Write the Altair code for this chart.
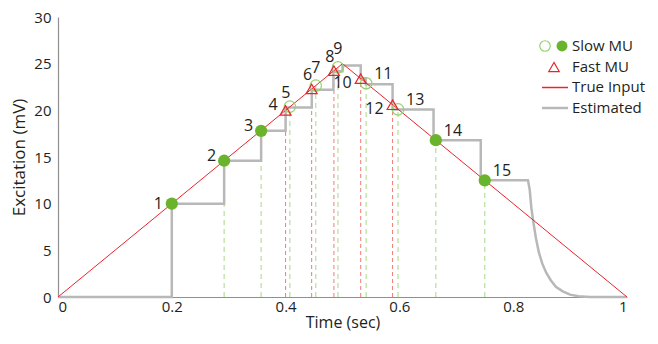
import altair as alt
import pandas as pd

# ---------------- data ----------------
true_t = [0.0, 0.5, 1.0]
true_e = [0.0, 25.0, 0.0]

est_t = [0.0, 0.2, 0.2, 0.292, 0.292, 0.357, 0.357, 0.400, 0.400, 0.446,
         0.446, 0.484, 0.484, 0.500, 0.500, 0.532, 0.532, 0.541, 0.541, 0.588,
         0.588, 0.660, 0.660, 0.743, 0.743, 0.826, 0.829, 0.832, 0.836, 0.840,
         0.845, 0.851, 0.858, 0.866, 0.875, 0.887, 0.900, 0.915, 0.935, 1.0]
est_e = [0, 0, 10, 10, 14.6, 14.6, 17.8, 17.8, 20.3, 20.3,
         22.2, 22.2, 24.2, 24.2, 24.8, 24.8, 23.4, 23.4, 22.8, 22.8,
         20.1, 20.1, 16.8, 16.8, 12.5, 12.5, 11.5, 9.5, 7.8, 6.3,
         4.8, 3.6, 2.6, 1.8, 1.1, 0.6, 0.25, 0.08, 0, 0]

slow_id = [1, 2, 3, 5, 7, 9, 11, 13, 14, 15]
slow_t = [0.200, 0.292, 0.357, 0.4075, 0.453, 0.492, 0.5416, 0.5976, 0.664, 0.750]
slow_e = [10.0, 14.6, 17.8, 20.4, 22.65, 24.6, 22.9, 20.1, 16.8, 12.5]
open_ids = [5, 7, 9, 11, 13]

fast_id = [4, 6, 8, 10, 12]
fast_t = [0.400, 0.4458, 0.4849, 0.532, 0.588]
fast_e = [20.0, 22.3, 24.25, 23.4, 20.6]

legend_labels = ["Slow MU", "Fast MU", "True Input", "Estimated"]
x_ticks = [0, 0.2, 0.4, 0.6, 0.8, 1]
y_ticks = [0, 5, 10, 15, 20, 25, 30]

# ---------------- styling ----------------
FONT = "Open Sans"
GREEN = "#6ab42d"
GREEN_LIGHT = "#95d36f"
GREEN_DASH = "#b6df9c"
RED = "#e8242c"
RED_DASH = "#f07a7a"
GRAY = "#b8b8b8"
TXT = "#231f20"

true_df = pd.DataFrame({"t": true_t, "e": true_e})
est_df = pd.DataFrame({"t": est_t, "e": est_e, "i": list(range(len(est_t)))})
slow_df = pd.DataFrame({"t": slow_t, "e": slow_e, "id": slow_id})
fast_df = pd.DataFrame({"t": fast_t, "e": fast_e, "id": fast_id})
lab_df = pd.concat([slow_df, fast_df], ignore_index=True)

xs = alt.Scale(domain=[0, 1], nice=False)
ys = alt.Scale(domain=[0, 30], nice=False)

X = alt.X("t:Q", scale=xs, title="Time (sec)",
          axis=alt.Axis(values=x_ticks, format="~g", ticks=False, grid=False,
                        labelPadding=2, titlePadding=0, titleFontSize=16))
Y = alt.Y("e:Q", scale=ys, title="Excitation (mV)",
          axis=alt.Axis(values=y_ticks, ticks=False, grid=False,
                        labelPadding=7, titlePadding=5, titleFontSize=17))

slow_rules = alt.Chart(slow_df).mark_rule(color=GREEN_DASH, strokeWidth=1.2, strokeDash=[5, 4]).encode(
    x=X, y=alt.Y("zero:Q", scale=ys), y2="e:Q").transform_calculate(zero="0")
fast_rules = alt.Chart(fast_df).mark_rule(color=RED_DASH, strokeWidth=1, strokeDash=[4, 3]).encode(
    x=X, y=alt.Y("zero:Q", scale=ys), y2="e:Q").transform_calculate(zero="0")

est_line = alt.Chart(est_df).mark_line(color=GRAY, strokeWidth=2.5).encode(
    x=X, y=Y, order="i:Q")
true_line = alt.Chart(true_df).mark_line(color=RED, strokeWidth=1).encode(x=X, y=Y)

slow_filled = alt.Chart(slow_df).transform_filter(
    ~alt.FieldOneOfPredicate(field="id", oneOf=open_ids)
).mark_circle(size=150, color=GREEN, opacity=1).encode(x=X, y=Y)
slow_open = alt.Chart(slow_df).transform_filter(
    alt.FieldOneOfPredicate(field="id", oneOf=open_ids)
).mark_point(shape="circle", size=130, filled=False, color=GREEN_LIGHT, strokeWidth=1.2, opacity=1).encode(x=X, y=Y)
fast_pts = alt.Chart(fast_df).mark_point(shape="triangle-up", size=120, filled=False,
                                          color=RED, strokeWidth=1.2, opacity=1).encode(x=X, y=Y)


def labels(ids, dx, dy, align):
    return alt.Chart(lab_df).transform_filter(
        alt.FieldOneOfPredicate(field="id", oneOf=ids)
    ).mark_text(font=FONT, fontSize=16, color=TXT, dx=dx, dy=dy, align=align,
                baseline="middle").encode(x=X, y=Y, text="id:N")


lab_layers = [
    labels([1], -9, 0, "right"),
    labels([2, 3, 4], -8, -5, "right"),
    labels([10, 12], -9, 4, "right"),
    labels([5, 6, 8], -4, -14, "center"),
    labels([7, 9], 0, -18, "center"),
    labels([11, 13, 14, 15], 8, -9, "left"),
]

one = pd.DataFrame({"k": [0]})


def leg_text(label, y):
    return alt.Chart(one).mark_text(font=FONT, fontSize=15, color=TXT, align="left",
                                    baseline="middle").encode(
        x=alt.value(514), y=alt.value(y), text=alt.value(label))


legend = [
    alt.Chart(one).mark_point(shape="circle", size=110, filled=False, color=GREEN_LIGHT,
                              strokeWidth=1.2, opacity=1).encode(x=alt.value(487), y=alt.value(29)),
    alt.Chart(one).mark_circle(size=120, color=GREEN, opacity=1).encode(x=alt.value(504), y=alt.value(29)),
    alt.Chart(one).mark_point(shape="triangle-up", size=110, filled=False, color=RED,
                              strokeWidth=1.2, opacity=1).encode(x=alt.value(496), y=alt.value(50)),
    alt.Chart(one).mark_rule(color=RED, strokeWidth=1.5).encode(
        x=alt.value(484), x2=alt.value(510), y=alt.value(70.5)),
    alt.Chart(one).mark_rule(color=GRAY, strokeWidth=2.5).encode(
        x=alt.value(484), x2=alt.value(510), y=alt.value(91)),
    leg_text(legend_labels[0], 29),
    leg_text(legend_labels[1], 49.5),
    leg_text(legend_labels[2], 70),
    leg_text(legend_labels[3], 90.5),
]

chart = alt.layer(
    slow_rules, fast_rules, est_line, true_line, slow_open, fast_pts, slow_filled,
    *lab_layers, *legend
).properties(
    width=569, height=280,
    autosize=alt.AutoSizeParams(type="none"),
    padding={"left": 50, "top": 9, "right": 23, "bottom": 35},
).configure_view(strokeWidth=0).configure_axis(
    domainColor="#8f8f8f", domainWidth=1.2,
    labelFont=FONT, labelFontSize=15, labelColor=TXT,
    titleFont=FONT, titleColor=TXT, titleFontWeight="normal",
)

chart.save("out.html", embed_options={"renderer": "svg", "actions": False})
